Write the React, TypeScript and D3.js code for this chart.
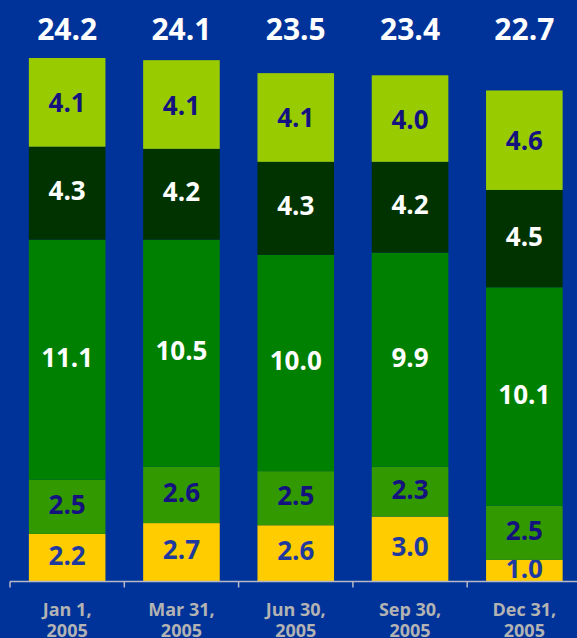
import React from "react";
import * as d3 from "d3";

const categories = ["Jan 1, 2005", "Mar 31, 2005", "Jun 30, 2005", "Sep 30, 2005", "Dec 31, 2005"];
const catLine1 = ["Jan 1,", "Mar 31,", "Jun 30,", "Sep 30,", "Dec 31,"];
const catLine2 = ["2005", "2005", "2005", "2005", "2005"];
const seriesYellow = [2.2, 2.7, 2.6, 3.0, 1.0];
const seriesMidGreen = [2.5, 2.6, 2.5, 2.3, 2.5];
const seriesGreen = [11.1, 10.5, 10.0, 9.9, 10.1];
const seriesDarkGreen = [4.3, 4.2, 4.3, 4.2, 4.5];
const seriesLightGreen = [4.1, 4.1, 4.1, 4.0, 4.6];
const totals = [24.2, 24.1, 23.5, 23.4, 22.7];

const seriesList = [
  { key: "yellow", values: seriesYellow, fill: "#ffcc00", text: "#1e3a9e" },
  { key: "midgreen", values: seriesMidGreen, fill: "#339900", text: "#14127f" },
  { key: "green", values: seriesGreen, fill: "#008000", text: "#ffffff" },
  { key: "darkgreen", values: seriesDarkGreen, fill: "#003300", text: "#ffffff" },
  { key: "lightgreen", values: seriesLightGreen, fill: "#99cc00", text: "#14127f" },
];

const W = 577;
const H = 638;
const FONT = "'Open Sans', 'DejaVu Sans', sans-serif";

export default function App() {
  const baseY = 581.5;
  const x = d3
    .scaleBand<string>()
    .domain(categories)
    .range([10, 581.5])
    .paddingInner(0.33)
    .paddingOuter(0.165);
  const y = d3.scaleLinear().domain([0, 24.2]).range([baseY, 58]);

  const rows = categories.map((c, i) => {
    const obj: any = { cat: c };
    seriesList.forEach((s) => (obj[s.key] = s.values[i]));
    return obj;
  });
  const stack = d3.stack<any>().keys(seriesList.map((s) => s.key));
  const stacked = stack(rows);

  return (
    <svg width={W} height={H} style={{ position: "absolute", left: 0, top: 0, display: "block" }}>
      <rect x={0} y={0} width={W} height={H} fill="#003399" />
      {stacked.map((layer, li) => {
        const s = seriesList[li];
        return (
          <g key={s.key}>
            {layer.map((d, i) => {
              const y0 = y(d[0]);
              const y1 = y(d[1]);
              const bx = x(categories[i])!;
              const bw = x.bandwidth();
              return (
                <g key={i}>
                  <rect x={bx} y={y1} width={bw} height={y0 - y1} fill={s.fill} />
                  <text
                    x={bx + bw / 2}
                    y={(y0 + y1) / 2 - (li === 4 ? 0 : 3)}
                    textAnchor="middle"
                    dominantBaseline="central"
                    fontFamily={FONT}
                    fontWeight="bold"
                    fontSize={26}
                    fill={s.text}
                  >
                    {s.values[i].toFixed(1)}
                  </text>
                </g>
              );
            })}
          </g>
        );
      })}
      {totals.map((t, i) => (
        <text
          key={i}
          x={x(categories[i])! + x.bandwidth() / 2}
          y={40}
          textAnchor="middle"
          fontFamily={FONT}
          fontWeight="bold"
          fontSize={30}
          fill="#ffffff"
        >
          {t.toFixed(1)}
        </text>
      ))}
      <line x1={10} x2={W} y1={baseY} y2={baseY} stroke="#b8b8c8" strokeWidth={1.5} />
      {categories.map((c, i) => {
        const tx = x(c)! - (x.step() - x.bandwidth()) / 2;
        return <line key={i} x1={tx} x2={tx} y1={baseY} y2={baseY + 6} stroke="#b8b8c8" strokeWidth={1.5} />;
      })}
      {categories.map((c, i) => {
        const cx = x(c)! + x.bandwidth() / 2;
        return (
          <text key={i} textAnchor="middle" fontFamily={FONT} fontWeight="bold" fontSize={18} fill="#b3b3b3">
            <tspan x={cx} y={616}>{catLine1[i]}</tspan>
            <tspan x={cx} y={637}>{catLine2[i]}</tspan>
          </text>
        );
      })}
    </svg>
  );
}
